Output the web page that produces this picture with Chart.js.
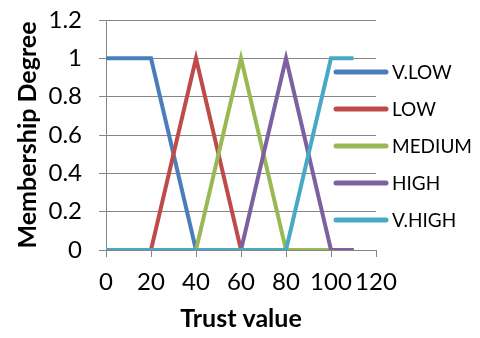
<!DOCTYPE html>
<html>
<head>
<meta charset="utf-8">
<script src="https://cdn.jsdelivr.net/npm/chart.js@4"></script>
<style>
  html, body { margin: 0; padding: 0; background: #fff; }
  #wrap { width: 480px; height: 338px; }
</style>
</head>
<body>
<div id="wrap"><canvas id="grafico" width="480" height="338"></canvas></div>
<script>
// --- datos ---
const valoresX = [0, 20, 40, 60, 80, 100, 110];
const nombresSeries = ['V.LOW', 'LOW', 'MEDIUM', 'HIGH', 'V.HIGH'];
const vLow   = [1, 1, 0, 0, 0, 0, 0];
const low    = [0, 0, 1, 0, 0, 0, 0];
const medium = [0, 0, 0, 1, 0, 0, 0];
const high   = [0, 0, 0, 0, 1, 0, 0];
const vHigh  = [0, 0, 0, 0, 0, 1, 1];
const ticksX = [0, 20, 40, 60, 80, 100, 120];
const ticksY = [0, 0.2, 0.4, 0.6, 0.8, 1, 1.2];

const colores = ['#4A7EBB', '#BE4B48', '#98B954', '#7D60A0', '#46AAC5'];
const fuente = 'Lato, "Open Sans", sans-serif';

function puntos(serie) {
  return serie.map((v, i) => ({ x: valoresX[i], y: v }));
}

const series = [vLow, low, medium, high, vHigh];
const datasets = series.map((s, i) => ({
  label: nombresSeries[i],
  data: puntos(s),
  borderColor: colores[i],
  backgroundColor: colores[i],
  borderWidth: 4,
  pointRadius: 0,
  tension: 0,
  fill: false,
  order: series.length - i   // la ultima serie queda encima, como en Excel
}));

// leyenda dibujada a mano (se superpone al area del grafico como en el original)
const leyendaManual = {
  id: 'leyendaManual',
  afterDraw(chart) {
    const ctx = chart.ctx;
    ctx.save();
    ctx.font = '19px ' + fuente;
    ctx.textBaseline = 'middle';
    chart.data.datasets.forEach((ds, i) => {
      const y = 72 + i * 37;
      ctx.strokeStyle = ds.borderColor;
      ctx.lineWidth = 5;
      ctx.lineCap = 'round';
      ctx.beginPath();
      ctx.moveTo(336, y);
      ctx.lineTo(386, y);
      ctx.stroke();
      ctx.fillStyle = '#000';
      ctx.fillText(ds.label, 392, y + 1);
    });
    ctx.restore();
  }
};

const ctx = document.getElementById('grafico').getContext('2d');
new Chart(ctx, {
  type: 'line',
  data: { datasets: datasets },
  plugins: [leyendaManual],
  options: {
    responsive: false,
    animation: false,
    layout: { padding: { left: 9, right: 104, top: 20, bottom: 0 } },
    plugins: { legend: { display: false }, tooltip: { enabled: false } },
    scales: {
      x: {
        type: 'linear',
        min: 0, max: 120,
        afterBuildTicks: (scale) => { scale.ticks = ticksX.map(v => ({ value: v })); },
        afterFit: (scale) => { scale.height = 88; scale.paddingLeft = 0; scale.paddingRight = 0; },
        grid: { drawOnChartArea: false, color: '#868686', tickLength: 7, lineWidth: 1 },
        border: { color: '#868686', width: 1 },
        ticks: { color: '#000', font: { family: fuente, size: 24 }, padding: 11, maxRotation: 0 },
        title: { display: true, text: 'Trust value', color: '#000', font: { family: fuente, size: 25, weight: 'bold' }, padding: { top: 5 } }
      },
      y: {
        min: 0, max: 1.2,
        afterBuildTicks: (scale) => { scale.ticks = ticksY.map(v => ({ value: v })); },
        afterFit: (scale) => { scale.width = 97; scale.paddingTop = 0; scale.paddingBottom = 0; },
        grid: { color: '#868686', tickLength: 7, lineWidth: 1 },
        border: { color: '#868686', width: 1 },
        ticks: { color: '#000', font: { family: fuente, size: 24 }, padding: 17,
                 callback: (v) => String(Math.round(v * 10) / 10) },
        title: { display: true, text: 'Membership Degree', color: '#000', font: { family: fuente, size: 25, weight: 'bold' }, padding: { bottom: 4 } }
      }
    }
  }
});
</script>
</body>
</html>
